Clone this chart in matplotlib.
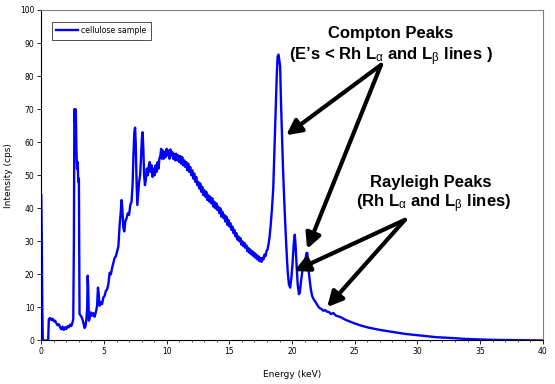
import matplotlib
matplotlib.use("Agg")
import matplotlib.pyplot as plt

plt.rcParams['mathtext.fontset'] = 'custom'
plt.rcParams['mathtext.rm'] = 'Liberation Sans:bold'
plt.rcParams['mathtext.it'] = 'Liberation Sans'
plt.rcParams['mathtext.bf'] = 'Liberation Sans:bold'

# spectrum (energy keV, intensity cps)
energy = [
    0.00, 0.04, 0.08, 0.12, 0.55, 0.60, 0.70, 0.80, 0.90, 1.00, 1.10, 1.20, 1.30, 1.40,
    1.50, 1.60, 1.70, 1.80, 1.90, 2.00, 2.10, 2.20, 2.30, 2.40, 2.50, 2.55, 2.60, 2.64,
    2.68, 2.72, 2.76, 2.80, 2.85, 2.90, 2.95, 3.00, 3.05, 3.15, 3.25, 3.35, 3.45, 3.52,
    3.60, 3.66, 3.70, 3.74, 3.80, 3.88, 3.95, 4.05, 4.15, 4.25, 4.35, 4.45, 4.52, 4.58,
    4.65, 4.75, 4.85, 4.95, 5.05, 5.15, 5.25, 5.35, 5.45, 5.55, 5.65, 5.75, 5.85, 5.95,
    6.05, 6.15, 6.25, 6.32, 6.40, 6.46, 6.55, 6.62, 6.70, 6.80, 6.90, 7.00, 7.10, 7.20,
    7.28, 7.35, 7.42, 7.48, 7.53, 7.60, 7.66, 7.72, 7.80, 7.88, 7.95, 8.02, 8.08, 8.14,
    8.20, 8.27, 8.35, 8.42, 8.50, 8.58, 8.65, 8.72, 8.80, 8.88, 8.96, 9.05, 9.12, 9.20,
    9.28, 9.35, 9.42, 9.50, 9.56, 9.62, 9.70, 9.78, 9.85, 9.92, 10.00, 10.08, 10.15,
    10.22, 10.30, 10.38, 10.45, 10.52, 10.60, 10.68, 10.76, 10.84, 10.92, 11.00, 11.08,
    11.16, 11.24, 11.32, 11.40, 11.48, 11.56, 11.64, 11.72, 11.80, 11.88, 11.96, 12.04,
    12.12, 12.20, 12.28, 12.36, 12.44, 12.52, 12.60, 12.68, 12.76, 12.84, 12.92, 13.00,
    13.08, 13.16, 13.24, 13.32, 13.40, 13.48, 13.56, 13.64, 13.72, 13.80, 13.88, 13.96,
    14.04, 14.12, 14.20, 14.28, 14.36, 14.44, 14.52, 14.60, 14.68, 14.76, 14.84, 14.92,
    15.00, 15.08, 15.16, 15.24, 15.32, 15.40, 15.48, 15.56, 15.64, 15.72, 15.80, 15.88,
    15.96, 16.04, 16.12, 16.20, 16.28, 16.36, 16.44, 16.52, 16.60, 16.68, 16.76, 16.84,
    16.92, 17.00, 17.08, 17.16, 17.24, 17.32, 17.40, 17.48, 17.56, 17.64, 17.72, 17.80,
    17.88, 17.96, 18.04, 18.12, 18.20, 18.30, 18.40, 18.50, 18.60, 18.70, 18.78, 18.85,
    18.92, 18.98, 19.05, 19.12, 19.20, 19.28, 19.36, 19.45, 19.55, 19.65, 19.75, 19.85,
    19.95, 20.05, 20.15, 20.22, 20.28, 20.36, 20.45, 20.55, 20.62, 20.72, 20.82, 20.95,
    21.05, 21.15, 21.22, 21.30, 21.40, 21.50, 21.60, 21.75, 21.90, 22.05, 22.20, 22.35,
    22.50, 22.65, 22.80, 22.95, 23.10, 23.30, 23.50, 23.70, 23.90, 24.10, 24.30, 24.50,
    24.70, 24.90, 25.20, 25.50, 25.80, 26.10, 26.50, 27.00, 27.50, 28.00, 28.50, 29.00,
    29.50, 30.00, 30.50, 31.00, 31.50, 32.00, 32.50, 33.00, 33.50, 34.00, 35.00, 36.00,
    37.00, 38.00, 39.00, 40.00,
]
intensity = [
    44, 30, 10, 0, 0, 6.5, 6.8, 6.2, 6.6, 5.8, 6.0, 5.2, 4.6, 4.9,
    4.0, 3.4, 4.2, 3.2, 4.0, 3.5, 4.3, 4.0, 4.8, 4.4, 5.6, 6.5, 30, 70,
    66, 70, 68, 58, 52, 54, 48, 49, 8, 7.5, 6.8, 5.5, 3.8, 4.2,
    6.5, 10, 19.6, 16, 6, 7.2, 8.5, 7.5, 8.3, 7.2, 8.5, 10.5, 16, 14,
    10.5, 11.5, 11, 13, 13.5, 15, 15.5, 17, 20.5, 20, 22, 23.5, 25, 25.5,
    27, 28.5, 35, 38, 42.5, 40, 34, 33, 36, 37, 38.5, 38, 41, 42,
    47, 56, 63, 64.4, 60, 48, 41, 44, 48, 50, 55, 61, 63, 58,
    50, 47, 49, 52, 50, 53, 54, 51, 53, 49.5, 52, 50, 53, 51,
    54, 52, 55, 56, 58, 55, 57.5, 55, 57, 55.5, 58, 56, 57.5,
    55, 57.8, 56, 57, 55, 56.5, 54.5, 56.5, 54.5, 56, 54, 55.8,
    53.5, 55.5, 53, 54.5, 52.5, 54, 51.5, 53.5, 51, 52.5, 50, 51.5,
    49, 50.5, 48, 49.5, 47, 48, 46, 47.5, 45, 46.5, 44, 45.5,
    43.5, 45, 42.5, 44, 42, 43.5, 41.5, 43, 40.5, 42, 40, 41.5,
    39.5, 40.5, 38.5, 40, 37.5, 39, 37, 38, 36, 37.5, 35, 36.5,
    34.5, 35.5, 33.5, 34.5, 32.5, 33.5, 31.5, 32.5, 30.5, 31.5, 30, 31,
    29, 30, 28.5, 29.5, 28, 28.8, 27, 28, 26.5, 27.5, 26, 27,
    25.5, 26.5, 25, 26, 24.5, 25.5, 24, 25, 23.8, 25, 24.5, 26,
    25.5, 27, 27.5, 29, 31, 35, 40, 46, 58, 71, 80, 86,
    86.5, 85, 83, 72, 62, 52, 44, 36, 28, 21, 17, 16,
    19, 24, 30, 32, 29, 23, 17, 14, 14.5, 18, 21, 23,
    24, 26.5, 26.5, 22, 18.5, 15.5, 13.5, 12.3, 11.5, 10.5, 9.8, 9.5,
    9.0, 9.2, 8.7, 8.6, 8.0, 8.3, 7.5, 7.3, 7.0, 6.6, 6.2, 5.9,
    5.6, 5.3, 4.9, 4.5, 4.2, 3.9, 3.6, 3.2, 2.9, 2.6, 2.3, 2.0,
    1.8, 1.6, 1.4, 1.2, 1.0, 0.9, 0.8, 0.7, 0.55, 0.45, 0.3, 0.2,
    0.15, 0.1, 0.05, 0.0,
]

fig = plt.figure(figsize=(5.55, 3.84), dpi=100)
ax = fig.add_axes([0.0744, 0.1133, 0.9036, 0.8607])

ax.plot(energy, intensity, color='#0000ff', lw=1.7, label='cellulose sample')

ax.set_xlim(0, 40)
ax.set_ylim(0, 100)
ax.set_xticks(range(0, 41, 5))
ax.set_xticks(range(0, 41, 1), minor=True)
ax.set_yticks(range(0, 101, 10))
ax.tick_params(axis='both', which='major', labelsize=5.5, length=3, width=0.6, direction='out', pad=2)
ax.tick_params(axis='x', which='minor', length=1.5, width=0.5, direction='out')
for s in ['top', 'right']:
    ax.spines[s].set_color('#808080')
for s in ['left', 'bottom']:
    ax.spines[s].set_linewidth(0.8)

ax.set_xlabel('Energy (keV)', fontsize=6.5, labelpad=10)
ax.set_ylabel('Intensity (cps)', fontsize=6.5, labelpad=5)

leg = ax.legend(loc='upper left', bbox_to_anchor=(0.021, 0.965), fontsize=5.6,
                frameon=True, fancybox=False, handlelength=2.8, borderpad=0.6,
                handletextpad=0.3, borderaxespad=0)
leg.get_frame().set_edgecolor('black')
leg.get_frame().set_linewidth(0.6)

tkw = dict(fontsize=12, fontweight='bold', family='Liberation Sans', ha='center', va='center')
ax.text(27.9, 93.0, 'Compton Peaks', **tkw)
ax.text(27.9, 85.8, r'(E’s < Rh L$_\alpha$ and L$_\beta$ lines )', **tkw)
ax.text(31.1, 47.7, 'Rayleigh Peaks', **tkw)
ax.text(31.3, 41.3, r'(Rh L$_\alpha$ and L$_\beta$ lines)', **tkw)

akw = dict(arrowstyle='-|>,head_length=0.75,head_width=0.38', color='black', lw=3,
           shrinkA=0, shrinkB=0, mutation_scale=12)
ax.annotate('', xy=(19.53, 62.1), xytext=(27.1, 83.4), arrowprops=akw)
ax.annotate('', xy=(21.2, 27.7), xytext=(27.1, 83.4), arrowprops=akw)
ax.annotate('', xy=(20.17, 21.0), xytext=(29.0, 36.5), arrowprops=akw)
ax.annotate('', xy=(22.8, 10.1), xytext=(29.0, 36.5), arrowprops=akw)

fig.savefig('out.png', dpi=100)
